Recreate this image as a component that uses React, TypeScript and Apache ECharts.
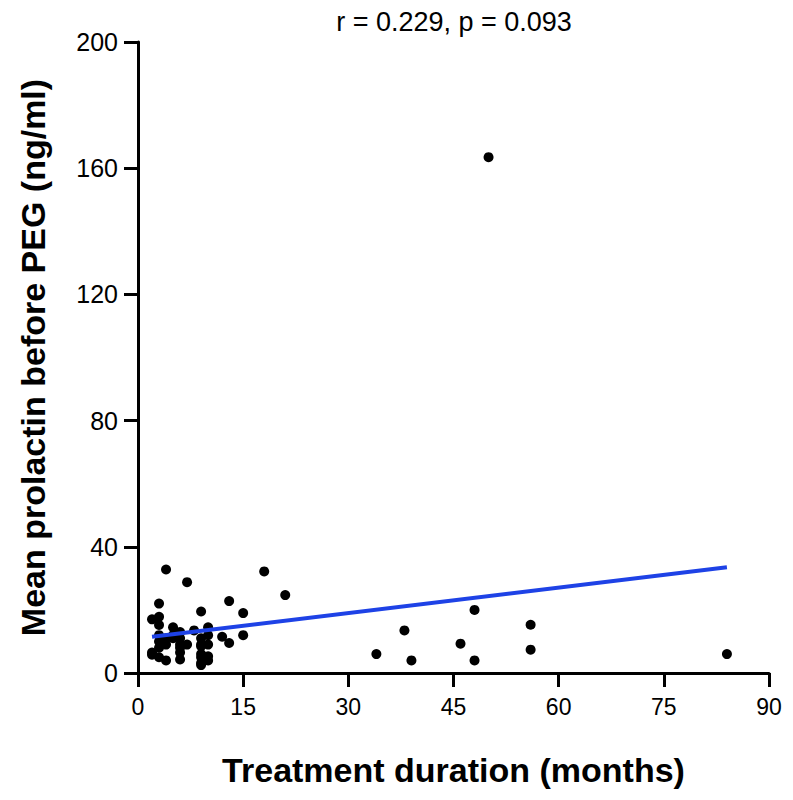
import React, { useEffect, useRef } from "react";
import * as echarts from "echarts";

const titleText = "r = 0.229, p = 0.093";
const xAxisTitle = "Treatment duration (months)";
const yAxisTitle = "Mean prolactin before PEG (ng/ml)";

const durationMonths = [
  2, 2, 2,
  3, 3, 3, 3, 3, 3, 3,
  4, 4, 4, 4,
  5, 5, 5,
  6, 6, 6, 6, 6, 6,
  7, 7,
  8,
  9, 9, 9, 9, 9, 9, 9, 9,
  10, 10, 10, 10, 10,
  12,
  13, 13,
  15, 15,
  18, 21,
  34, 38, 39, 46, 48, 48, 50, 56, 56, 84,
];
const prolactin = [
  17, 5.8, 6.5,
  22, 17.8, 15.2, 12, 10, 8, 5,
  32.8, 11, 9, 4,
  14.5, 11, 12,
  13, 11, 9, 6.5, 4.3, 8,
  28.8, 9,
  13.5,
  19.5, 9, 8.5, 6, 5, 3.2, 2.5, 11,
  14.5, 12, 9, 5.3, 4,
  11.5,
  22.8, 9.5,
  19, 12,
  32.2, 24.7,
  6, 13.5, 4, 9.3, 20, 4, 163.5, 15.3, 7.4, 6,
];
const fitX = [2, 84];
const fitY = [11.5, 33.5];

export default function App() {
  const ref = useRef<HTMLDivElement>(null);
  useEffect(() => {
    if (!ref.current) return;
    const chart = echarts.init(ref.current, undefined, { renderer: "svg" });
    const font = "Liberation Sans, Arial, sans-serif";
    chart.setOption({
      animation: false,
      backgroundColor: "#ffffff",
      graphic: [
        {
          type: "text",
          x: 446,
          y: 14,
          style: {
            text: titleText,
            align: "center",
            verticalAlign: "middle",
            fontFamily: font,
            fontSize: 27,
            fill: "#000",
          },
        },
      ],
      grid: { left: 127, right: 16, top: 34, bottom: 116 },
      xAxis: {
        type: "value",
        min: 0,
        max: 90,
        interval: 15,
        name: xAxisTitle,
        nameLocation: "middle",
        nameGap: 80,
        nameTextStyle: { fontFamily: font, fontSize: 34, fontWeight: "bold", color: "#000" },
        axisLine: { show: true, onZero: false, lineStyle: { color: "#000", width: 3 } },
        axisTick: { show: true, length: 14, lineStyle: { color: "#000", width: 3 } },
        axisLabel: { fontFamily: font, fontSize: 23, color: "#000", margin: 22 },
        splitLine: { show: false },
      },
      yAxis: {
        type: "value",
        min: 0,
        max: 200,
        interval: 40,
        name: yAxisTitle,
        nameLocation: "middle",
        nameGap: 88,
        nameRotate: 90,
        nameTextStyle: { fontFamily: font, fontSize: 34, fontWeight: "bold", color: "#000" },
        axisLine: { show: true, lineStyle: { color: "#000", width: 3 } },
        axisTick: { show: true, length: 14, lineStyle: { color: "#000", width: 3 } },
        axisLabel: { fontFamily: font, fontSize: 25, color: "#000", margin: 20 },
        splitLine: { show: false },
      },
      series: [
        {
          type: "scatter",
          data: durationMonths.map((x, i) => [x, prolactin[i]]),
          symbol: "circle",
          symbolSize: 10,
          itemStyle: { color: "#000", opacity: 1 },
          z: 3,
        },
        {
          type: "line",
          data: fitX.map((x, i) => [x, fitY[i]]),
          symbol: "none",
          lineStyle: { color: "#1e42e6", width: 4 },
          z: 4,
        },
      ],
    });
    return () => chart.dispose();
  }, []);
  return <div ref={ref} style={{ width: 777, height: 784 }} />;
}
